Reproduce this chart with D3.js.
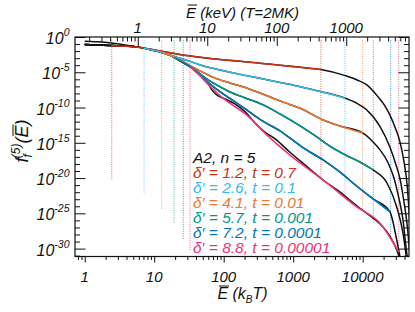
<!DOCTYPE html>
<html>
<head>
<meta charset="utf-8">
<script src="https://cdn.jsdelivr.net/npm/d3@7"></script>
<style>
body { margin: 0; background: #fff; }
svg text { font-family: "Liberation Sans", Arial, sans-serif; font-style: italic; fill: #111; }
</style>
</head>
<body>
<svg id="chart" width="415" height="312"></svg>
<script>
// all curve values are log10(E / k_B T), log10(f)
const deltas = ['1.2', '2.6', '4.1', '5.7', '7.2', '8.8'];
const tvals = ['0.7', '0.1', '0.01', '0.001', '0.0001', '0.00001'];
const colors = ['#cc3311', '#33bbee', '#ee7733', '#009988', '#0077bb', '#ee3377'];
const lowCut = [2.45, 7.15, 12.8, 19.3, 26.2, 32.7];
const highCut = [2510, 5560, 10000, 14200, 25300, 33000];
const cutTop = -0.4;
const cutDepth = [-20.3, -22.2, -24.4, -26.3, -28.6, -30.4];
const bottomTicks = [1, 10, 100, 1000, 10000];
const topTicks = [1, 10, 100, 1000];
const leftTicks = [0, -5, -10, -15, -20, -25, -30];

// simulated distributions (black)
const sim1 = [[0,-0.62],[0.15,-0.67],[0.29,-0.74],[0.44,-0.91],[0.58,-1.12],[0.75,-1.40],[0.94,-1.72],[1.08,-1.97],[1.23,-2.23],[1.37,-2.47],[1.66,-2.87],[1.95,-3.19],[2.24,-3.43],[2.52,-3.72],[2.81,-4.0],[3.10,-4.30],[3.40,-4.61],[3.75,-5.48],[3.92,-6.09],[4.06,-6.79],[4.21,-8.35],[4.32,-9.77],[4.39,-11.05],[4.47,-12.89],[4.54,-15.02],[4.59,-17.43],[4.64,-20.98],[4.68,-26.65]];
const sim2 = [[0,-1.05],[0.18,-1.12],[0.36,-1.19],[0.58,-1.29],[0.75,-1.40],[0.94,-1.76],[1.08,-2.11],[1.23,-2.54],[1.37,-3.01],[1.52,-3.46],[1.66,-3.96],[1.95,-4.67],[2.24,-5.30],[2.52,-5.84],[2.81,-6.44],[3.10,-7.04],[3.39,-7.72],[3.75,-8.68],[3.92,-9.42],[4.06,-10.34],[4.25,-12.71],[4.39,-15.55],[4.48,-18.14],[4.54,-20.27],[4.59,-23.11],[4.64,-26.65],[4.68,-30.9]];
const sim3 = [[0,-1.05],[0.18,-1.12],[0.36,-1.19],[0.58,-1.29],[0.75,-1.40],[0.94,-1.76],[1.08,-2.11],[1.23,-2.61],[1.37,-3.25],[1.52,-4.10],[1.66,-4.81],[1.85,-5.73],[2.09,-6.51],[2.34,-7.26],[2.52,-7.93],[2.71,-8.68],[2.95,-9.56],[3.10,-10.10],[3.43,-11.76],[3.67,-12.61],[4.0,-13.60],[4.15,-14.88],[4.25,-16.01],[4.36,-17.72],[4.45,-19.99],[4.52,-22.82],[4.58,-25.94],[4.62,-29.49],[4.65,-31.9]];
const sim4 = [[0,-1.05],[0.18,-1.12],[0.36,-1.19],[0.58,-1.29],[0.75,-1.40],[0.94,-1.76],[1.08,-2.11],[1.23,-2.61],[1.37,-3.32],[1.52,-4.17],[1.66,-5.23],[1.80,-6.23],[1.95,-7.08],[2.09,-7.79],[2.31,-8.64],[2.57,-9.63],[2.81,-10.91],[3.10,-12.61],[3.34,-14.17],[3.57,-15.73],[3.75,-16.72],[3.96,-17.72],[4.15,-18.85],[4.35,-20.70],[4.49,-24.10],[4.58,-27.79],[4.63,-31.33]];
const sim5 = [[0,-1.05],[0.18,-1.12],[0.36,-1.19],[0.58,-1.29],[0.75,-1.40],[0.94,-1.76],[1.08,-2.11],[1.23,-2.61],[1.37,-3.39],[1.52,-4.24],[1.66,-5.38],[1.80,-6.65],[1.95,-7.79],[2.09,-8.71],[2.31,-10.20],[2.57,-11.97],[2.81,-13.32],[2.95,-14.31],[3.17,-15.87],[3.43,-17.43],[3.67,-19.13],[3.92,-21.19],[4.15,-22.96],[4.39,-24.74],[4.49,-28.78],[4.54,-31.33]];
const sim6 = [[0,-1.05],[0.18,-1.12],[0.36,-1.19],[0.58,-1.29],[0.75,-1.40],[0.94,-1.76],[1.08,-2.11],[1.23,-2.61],[1.37,-3.39],[1.52,-4.24],[1.66,-5.38],[1.76,-6.37],[1.83,-7.50],[1.90,-8.21],[2.02,-8.78],[2.16,-9.49],[2.31,-10.62],[2.45,-12.18],[2.59,-13.46],[2.74,-14.45],[2.95,-16.30],[3.17,-18.14],[3.43,-20.27],[3.67,-21.97],[3.92,-23.96],[4.11,-25.38],[4.25,-26.51],[4.39,-28.21],[4.49,-30.2],[4.54,-31.62]];

// fitted power-law segments (coloured)
const fit1 = [[0.38,-1.23],[0.75,-1.43],[0.94,-1.72],[1.08,-1.97],[1.23,-2.23],[1.37,-2.47],[1.66,-2.87],[1.95,-3.19],[2.24,-3.43],[2.52,-3.72],[2.81,-4.0],[3.10,-4.30],[3.40,-4.61]];
const fit2 = [[0.85,-1.60],[1.08,-2.11],[1.23,-2.54],[1.37,-3.01],[1.52,-3.46],[1.66,-3.96],[1.95,-4.67],[2.24,-5.30],[2.52,-5.84],[2.81,-6.44],[3.10,-7.04],[3.39,-7.72],[3.75,-8.68]];
const fit3 = [[1.11,-2.21],[1.23,-2.61],[1.37,-3.25],[1.52,-4.10],[1.66,-4.81],[1.85,-5.73],[2.09,-6.51],[2.34,-7.26],[2.52,-7.93],[2.71,-8.68],[2.95,-9.56],[3.10,-10.10],[3.43,-11.76],[3.67,-12.61],[4.0,-13.60]];
const fit4 = [[1.29,-2.90],[1.37,-3.32],[1.52,-4.17],[1.66,-5.23],[1.80,-6.23],[1.95,-7.08],[2.09,-7.79],[2.31,-8.64],[2.57,-9.63],[2.81,-10.91],[3.10,-12.61],[3.34,-14.17],[3.57,-15.73],[3.75,-16.72],[3.96,-17.72],[4.15,-18.85]];
const fit5 = [[1.41,-3.62],[1.52,-4.24],[1.66,-5.38],[1.80,-6.65],[1.95,-7.79],[2.09,-8.71],[2.31,-10.20],[2.57,-11.97],[2.81,-13.32],[2.95,-14.31],[3.17,-15.87],[3.43,-17.43],[3.67,-19.13],[3.92,-21.19],[4.15,-22.96],[4.40,-24.85]];
const fit6 = [[1.52,-4.24],[1.66,-5.52],[1.80,-6.94],[1.99,-8.68],[2.33,-11.05],[2.62,-13.87],[2.95,-16.72],[3.43,-20.27],[3.91,-24.06],[4.25,-26.41],[4.52,-30.5]];

const sims = [sim1, sim2, sim3, sim4, sim5, sim6];
const fits = [fit1, fit2, fit3, fit4, fit5, fit6];

const svg = d3.select('#chart');
const width = +svg.attr('width');
const height = +svg.attr('height');
const margin = { top: 37, right: 6, bottom: 55.5, left: 75 };
const kT = 0.17235; // keV at T = 2 MK

const x = d3.scaleLog().domain([0.725, 46400]).range([margin.left, width - margin.right]);
const y = d3.scaleLog().domain([Math.pow(10, -31.12), 1]).range([height - margin.bottom, margin.top]);
const xTop = d3.scaleLog().domain(x.domain().map(d => d * kT)).range(x.range());

const x0 = margin.left, x1 = width - margin.right;
const y0 = margin.top, y1 = height - margin.bottom;

svg.append('clipPath').attr('id', 'clip')
    .append('rect').attr('x', x0).attr('y', y0).attr('width', x1 - x0).attr('height', y1 - y0);

const plot = svg.append('g').attr('clip-path', 'url(#clip)');

const line = d3.line()
    .x(d => x(Math.pow(10, d[0])))
    .y(d => y(Math.pow(10, d[1])))
    .curve(d3.curveMonotoneX);

// dotted markers at the fit limits
colors.forEach((c, i) => {
    [lowCut[i], highCut[i]].forEach(e => {
        plot.append('line')
            .attr('x1', x(e)).attr('x2', x(e))
            .attr('y1', y(Math.pow(10, cutTop))).attr('y2', y(Math.pow(10, cutDepth[i])))
            .attr('stroke', c)
            .attr('stroke-width', 1)
            .attr('stroke-opacity', 0.75)
            .attr('stroke-dasharray', '1,1.3');
    });
});

sims.forEach(s => {
    plot.append('path').attr('d', line(s))
        .attr('fill', 'none').attr('stroke', '#111').attr('stroke-width', 1.5);
});

fits.forEach((f, i) => {
    plot.append('path').attr('d', line(f))
        .attr('fill', 'none').attr('stroke', colors[i]).attr('stroke-width', 1.6);
});

// axes
function styleAxis(g) {
    g.select('.domain').remove();
    g.selectAll('.tick line').attr('stroke', '#111').attr('stroke-width', 1);
}
const isDecade = v => Math.abs(Math.log10(v) - Math.round(Math.log10(v))) < 1e-6;

svg.append('g').attr('transform', `translate(0,${y1})`)
    .call(d3.axisBottom(x).tickValues(x.ticks().filter(v => !isDecade(v))).tickSize(3.5).tickFormat(''))
    .call(styleAxis);
svg.append('g').attr('transform', `translate(0,${y1})`)
    .call(d3.axisBottom(x).tickValues(bottomTicks).tickSize(6).tickFormat(''))
    .call(styleAxis);

svg.append('g').attr('transform', `translate(0,${y0})`)
    .call(d3.axisTop(xTop).tickValues(xTop.ticks().filter(v => !isDecade(v))).tickSize(-4.5).tickFormat(''))
    .call(styleAxis);
svg.append('g').attr('transform', `translate(0,${y0})`)
    .call(d3.axisTop(xTop).tickValues(topTicks).tickSize(-9).tickFormat(''))
    .call(styleAxis);

const yMinor = d3.range(-31, 1).filter(v => v % 5 !== 0).map(v => Math.pow(10, v));
const yMajor = leftTicks.map(v => Math.pow(10, v));
[[d3.axisLeft, x0, -1], [d3.axisRight, x1, -1]].forEach(([ax, pos, s]) => {
    svg.append('g').attr('transform', `translate(${pos},0)`)
        .call(ax(y).tickValues(yMinor).tickSize(s * 5).tickFormat(''))
        .call(styleAxis);
    svg.append('g').attr('transform', `translate(${pos},0)`)
        .call(ax(y).tickValues(yMajor).tickSize(s * 10.5).tickFormat(''))
        .call(styleAxis);
});

svg.append('rect')
    .attr('x', x0).attr('y', y0).attr('width', x1 - x0).attr('height', y1 - y0)
    .attr('fill', 'none').attr('stroke', '#111').attr('stroke-width', 1.2);

// tick labels
svg.selectAll('.xlab').data(bottomTicks).enter().append('text')
    .attr('x', d => x(d)).attr('y', 281.5)
    .attr('text-anchor', 'middle').attr('font-size', 15)
    .text(d => d);

svg.selectAll('.xtlab').data(topTicks).enter().append('text')
    .attr('x', d => xTop(d)).attr('y', 33)
    .attr('text-anchor', 'middle').attr('font-size', 15)
    .text(d => d);

leftTicks.forEach(v => {
    const t = svg.append('text')
        .attr('x', 69.5).attr('y', y(Math.pow(10, v)) + 7)
        .attr('text-anchor', 'end').attr('font-size', 16);
    t.append('tspan').text('10');
    t.append('tspan').attr('dy', -8).attr('font-size', 10.5).text(v === 0 ? '0' : '-' + (-v));
});

// draw an overline above one character of a text element
function overlineChar(t, k) {
    const b = t.node().getExtentOfChar(k);
    d3.select(t.node().parentNode).append('line')
        .attr('x1', b.x + 1.5).attr('x2', b.x + b.width + 1)
        .attr('y1', b.y + 1).attr('y2', b.y + 1)
        .attr('stroke', '#111').attr('stroke-width', 1);
}

const topTitle = svg.append('g');
const tt = topTitle.append('text').attr('x', 242.5).attr('y', 18)
    .attr('text-anchor', 'middle').attr('font-size', 15)
    .text('E (keV) (T=2MK)');
overlineChar(tt, 0);

const botTitle = svg.append('g');
const bt = botTitle.append('text').attr('x', 242.5).attr('y', 299)
    .attr('text-anchor', 'middle').attr('font-size', 16);
bt.append('tspan').text('E (k');
bt.append('tspan').attr('dy', 4).attr('font-size', 10).text('B');
bt.append('tspan').attr('dy', -4).text('T)');
overlineChar(bt, 0);

const yTitle = svg.append('g').attr('transform', 'translate(28,141) rotate(-90)');
const yt = yTitle.append('text').attr('x', 0).attr('y', 0)
    .attr('text-anchor', 'middle').attr('font-size', 18);
yt.append('tspan').text('f');
yt.append('tspan').attr('dy', 4).attr('font-size', 12).text('f');
yt.append('tspan').attr('dx', -4).attr('dy', -12).attr('font-size', 12).text('(5)');
yt.append('tspan').attr('dy', 8).text('(E)');
overlineChar(yt, yt.node().getNumberOfChars() - 2);

// legend
const legend = svg.append('g').attr('font-size', 15.5);
legend.append('text').attr('x', 193).attr('y', 163.3).text('A2, n = 5');
deltas.forEach((d, i) => {
    legend.append('text')
        .attr('x', 193).attr('y', 163.3 + 14.9 * (i + 1))
        .style('fill', colors[i])
        .text(`δ′ = ${d}, t = ${tvals[i]}`);
});
</script>
</body>
</html>
